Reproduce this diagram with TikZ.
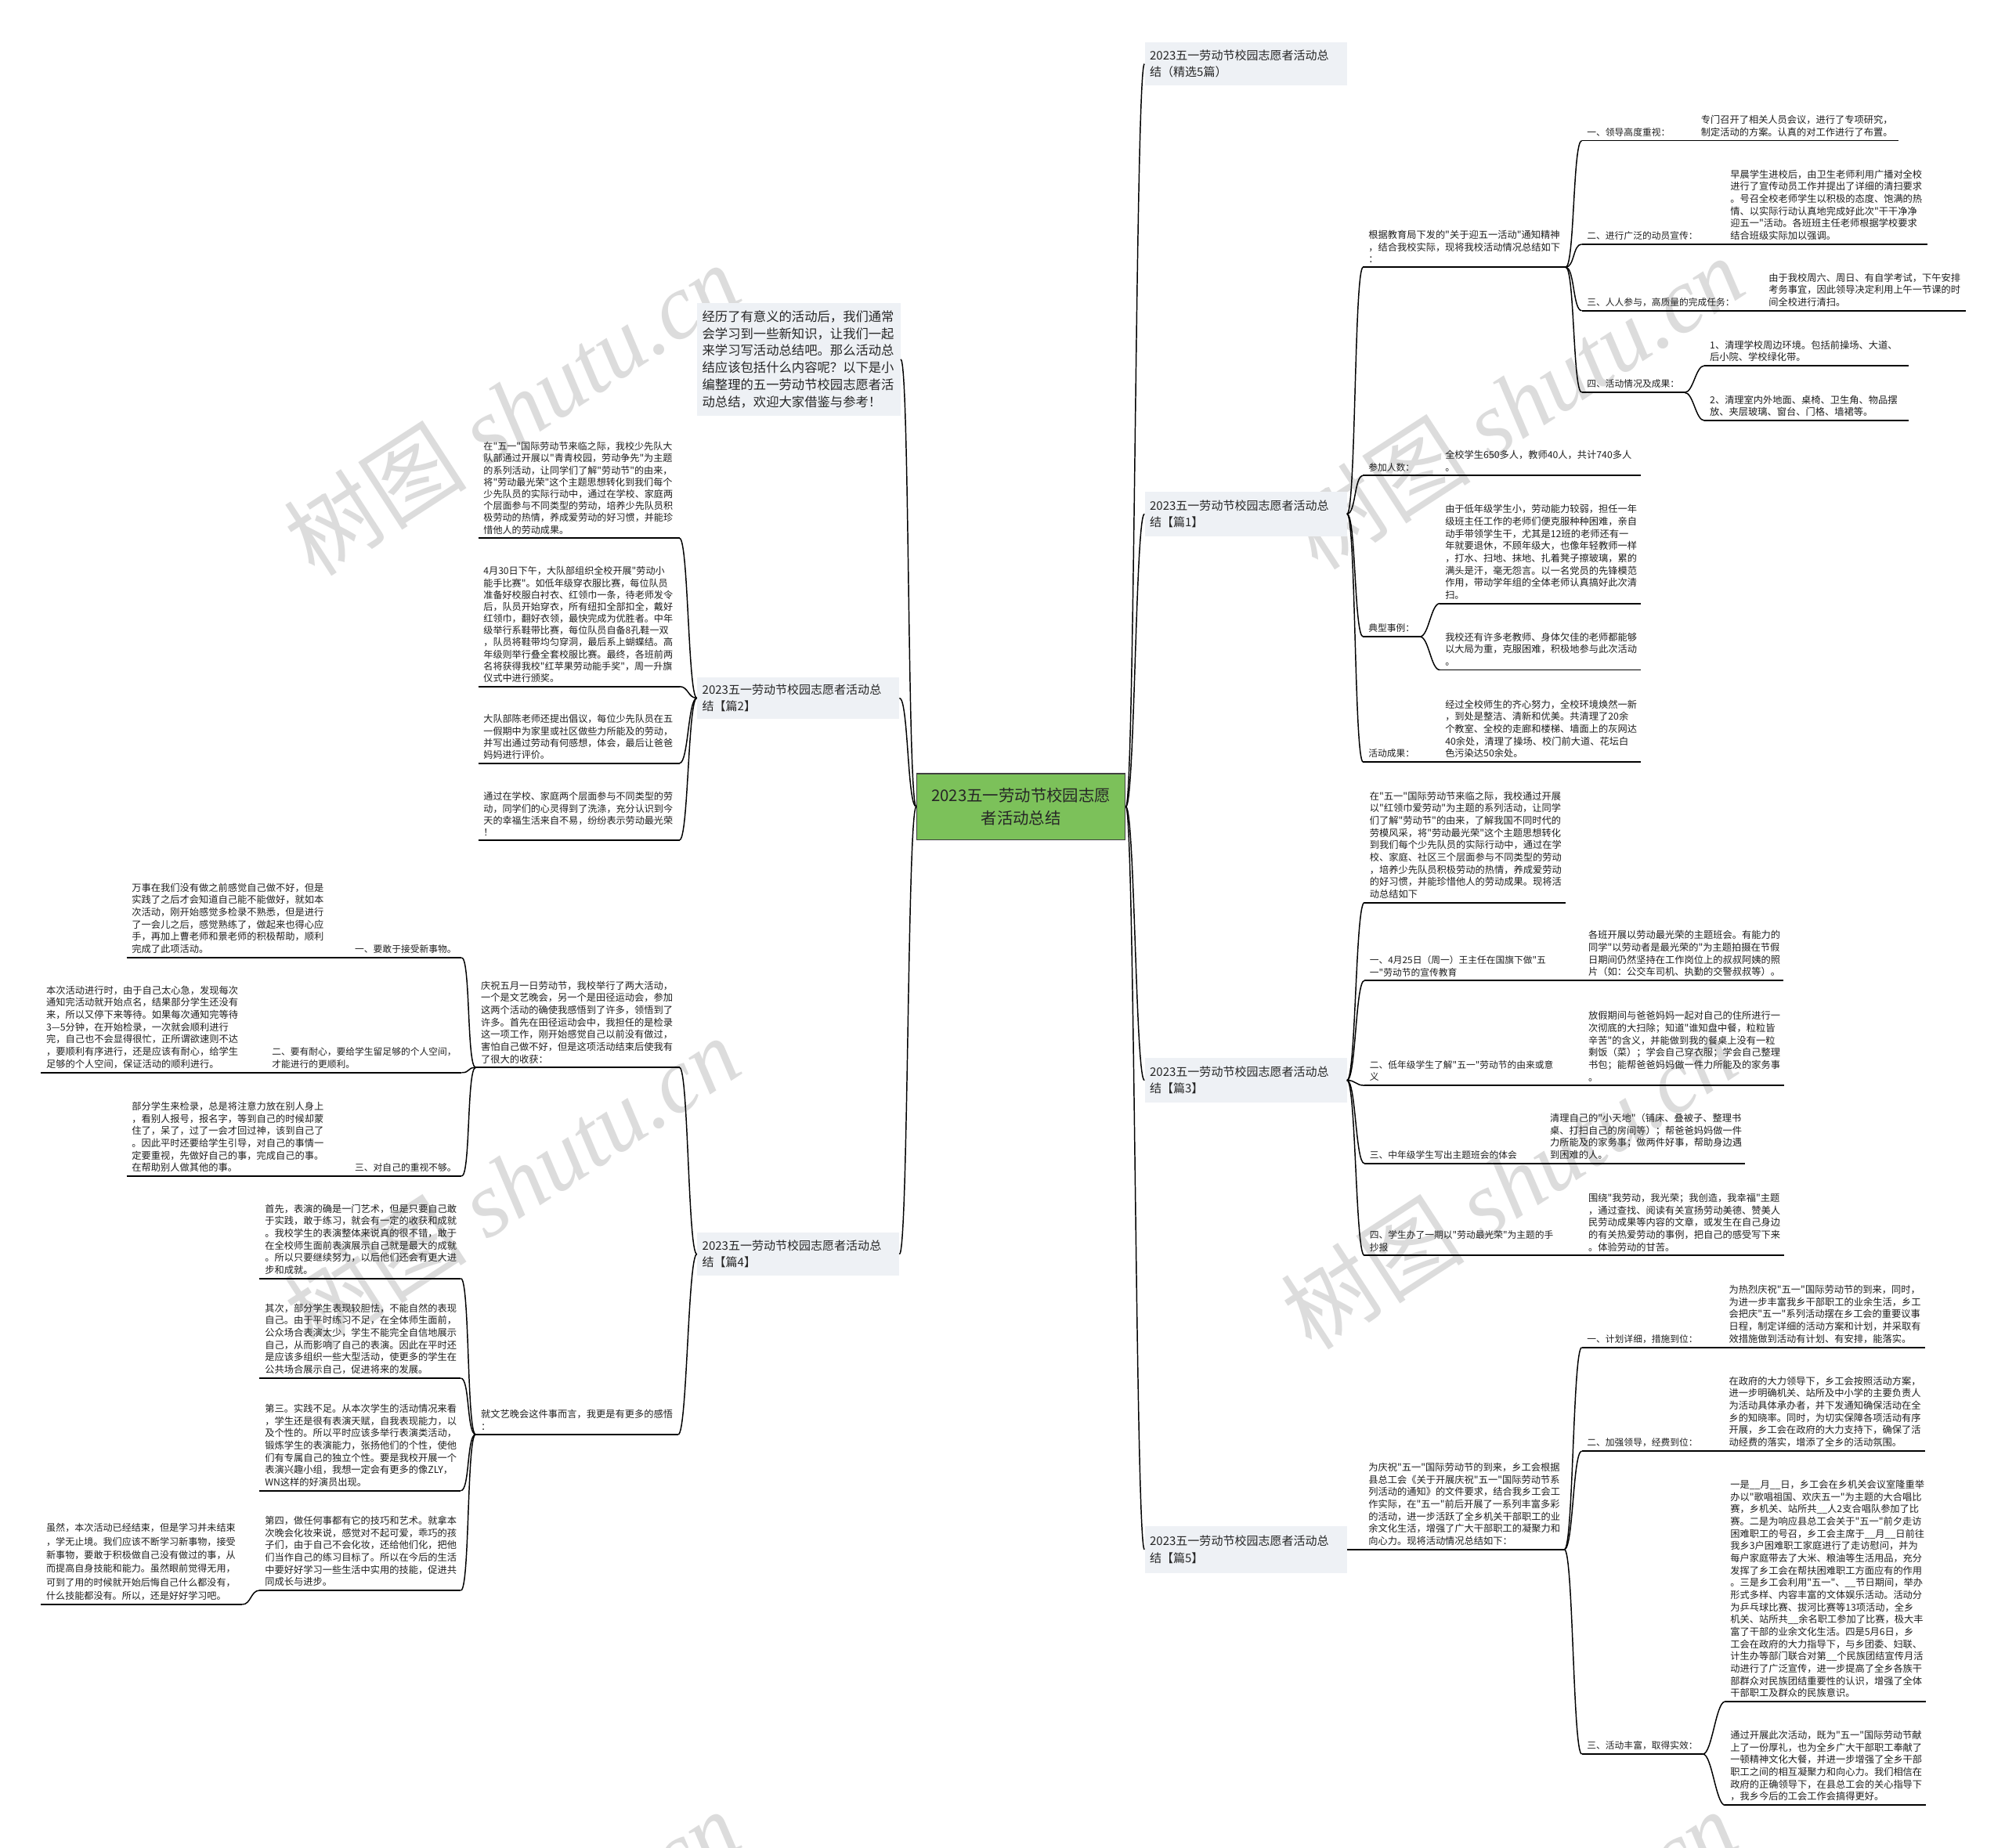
\documentclass[tikz,border=0pt]{standalone}
\usepackage{fontspec}
\setmainfont{Noto Sans CJK SC}[Ligatures=TeXOff]
\newfontfamily\wmserif{Liberation Serif}
\definecolor{ttlfill}{RGB}{238,241,245}
\definecolor{ctrfill}{RGB}{124,193,90}
\definecolor{wmgray}{RGB}{220,220,220}
\tikzset{
  leaf/.style={anchor=south west, inner xsep=4pt, inner ysep=3pt, align=left, font=\fontsize{7.5}{9.6}\selectfont, text=black!88},
  lbl/.style={anchor=south west, inner xsep=4pt, inner ysep=3pt, align=left, font=\fontsize{7.2}{9.6}\selectfont, text=black!88},
  ttl/.style={anchor=west, fill=ttlfill, inner xsep=4pt, inner ysep=2pt, text width=150pt, align=left, font=\fontsize{9.2}{13}\selectfont, text=black!85},
  ctr/.style={draw=black!75, line width=0.9pt, fill=ctrfill, minimum width=163pt, minimum height=52pt, inner sep=2pt, align=center, font=\fontsize{12.5}{18}\selectfont, text=black!85},
  conn/.style={line width=0.9pt, black},
  uline/.style={line width=1.1pt, black},
  wm/.style={text=wmgray, rotate=33, font=\fontsize{72}{72}\selectfont},
}
\newcommand\mkleaf[6][]{\node[leaf,text width=#5pt,#1] (#2) at (#3,#4) {#6};\draw[uline] (#2.south west) -- (#2.south east);}
\newcommand\mklabel[5][]{\node[lbl,#1] (#2) at (#3,#4) {#5};\draw[uline] (#2.south west) -- (#2.south east);}
\newcommand\bcurve[2]{\draw[conn] (#1) .. controls +(7,0) and +(-7,0) .. (#2);}
\newcommand\lcurve[2]{\draw[conn] (#1) .. controls +(-7,0) and +(7,0) .. (#2);}
\begin{document}
\begin{tikzpicture}[x=1pt,y=-1pt]
\fill[white] (0,0) rectangle (1568,1445);
\path[use as bounding box] (0,0) rectangle (1568,1445);
\begin{scope}
\clip (0,0) rectangle (1568,1445);
\node[wm] (w1) at (400,320) {树图 {\wmserif\itshape shutu.cn}};
\node[wm] (w2) at (1185,315) {树图 {\wmserif\itshape shutu.cn}};
\node[wm] (w3) at (400,925) {树图 {\wmserif\itshape shutu.cn}};
\node[wm] (w4) at (1180,925) {树图 {\wmserif\itshape shutu.cn}};
\node[wm] (w5) at (400,1530) {树图 {\wmserif\itshape shutu.cn}};
\node[wm] (w6) at (1180,1530) {树图 {\wmserif\itshape shutu.cn}};
\end{scope}

% center
\node[ctr] (c) at (798.5,631) {2023五一劳动节校园志愿\\者活动总结};

% right titles
\node[ttl, minimum height=34pt] (t0) at (895,50) {2023五一劳动节校园志愿者活动总\\结（精选5篇）};
\node[ttl, minimum height=35pt] (t1) at (895,402) {2023五一劳动节校园志愿者活动总\\结【篇1】};
\node[ttl, minimum height=35pt] (t3) at (895,845) {2023五一劳动节校园志愿者活动总\\结【篇3】};
\node[ttl, minimum height=37pt] (t5) at (895,1212) {2023五一劳动节校园志愿者活动总\\结【篇5】};
% left titles
\node[ttl, text width=151pt, minimum height=88pt, font=\fontsize{10}{13.3}\selectfont] (l0) at (545,281) {经历了有意义的活动后，我们通常\\会学习到一些新知识，让我们一起\\来学习写活动总结吧。那么活动总\\结应该包括什么内容呢？以下是小\\编整理的五一劳动节校园志愿者活\\动总结，欢迎大家借鉴与参考！};
\node[ttl, minimum height=33pt] (l2) at (545,546) {2023五一劳动节校园志愿者活动总\\结【篇2】};
\node[ttl, minimum height=34pt] (l4) at (545,981) {2023五一劳动节校园志愿者活动总\\结【篇4】};

\bcurve{c.east}{t0.west}
\bcurve{c.east}{t1.west}
\bcurve{c.east}{t3.west}
\bcurve{c.east}{t5.west}
\lcurve{c.west}{l0.east}
\lcurve{c.west}{l2.east}
\lcurve{c.west}{l4.east}

% ===== 篇1 =====
\mkleaf{gj}{1066}{209}{150}{根据教育局下发的"关于迎五一活动"通知精神\\，结合我校实际，现将我校活动情况总结如下\\：}
\mklabel{a1}{1237}{110}{一、领导高度重视：}
\mkleaf{a1t}{1326}{110}{150}{专门召开了相关人员会议，进行了专项研究，\\制定活动的方案。认真的对工作进行了布置。}
\draw[uline] (a1.south east) -- (a1t.south west);
\mklabel{a2}{1237}{191}{二、进行广泛的动员宣传：}
\mkleaf{a2t}{1349}{191}{150}{早晨学生进校后，由卫生老师利用广播对全校\\进行了宣传动员工作并提出了详细的清扫要求\\。号召全校老师学生以积极的态度、饱满的热\\情、以实际行动认真地完成好此次"干干净净\\迎五一"活动。各班班主任老师根据学校要求\\结合班级实际加以强调。}
\draw[uline] (a2.south east) -- (a2t.south west);
\mklabel{a3}{1237}{243}{三、人人参与，高质量的完成任务：}
\mkleaf{a3t}{1379}{243}{150}{由于我校周六、周日、有自学考试，下午安排\\考务事宜，因此领导决定利用上午一节课的时\\间全校进行清扫。}
\draw[uline] (a3.south east) -- (a3t.south west);
\mklabel{a4}{1237}{307}{四、活动情况及成果：}
\mkleaf{a41}{1333}{286}{151}{1、清理学校周边环境。包括前操场、大道、\\后小院、学校绿化带。}
\mkleaf{a42}{1333}{329}{151}{2、清理室内外地面、桌椅、卫生角、物品摆\\放、夹层玻璃、窗台、门格、墙裙等。}
\bcurve{a4.south east}{a41.south west}
\bcurve{a4.south east}{a42.south west}
\bcurve{gj.south east}{a1.south west}
\bcurve{gj.south east}{a2.south west}
\bcurve{gj.south east}{a3.south west}
\bcurve{gj.south east}{a4.south west}

\mklabel{pn}{1066}{372}{参加人数：}
\mkleaf{pnt}{1126}{372}{149}{全校学生650多人，教师40人，共计740多人\\。}
\draw[uline] (pn.south east) -- (pnt.south west);
\mklabel{dx}{1066}{498}{典型事例：}
\mkleaf{dx1}{1126}{472}{149}{由于低年级学生小，劳动能力较弱，担任一年\\级班主任工作的老师们便克服种种困难，亲自\\动手带领学生干，尤其是12班的老师还有一\\年就要退休，不顾年级大，也像年轻教师一样\\，打水、扫地、抹地、扎着凳子擦玻璃，累的\\满头是汗，毫无怨言。以一名党员的先锋模范\\作用，带动学年组的全体老师认真搞好此次清\\扫。}
\mkleaf{dx2}{1126}{524}{149}{我校还有许多老教师、身体欠佳的老师都能够\\以大局为重，克服困难，积极地参与此次活动\\。}
\bcurve{dx.south east}{dx1.south west}
\bcurve{dx.south east}{dx2.south west}
\mklabel{hd}{1066}{596}{活动成果：}
\mkleaf{hdt}{1126}{596}{149}{经过全校师生的齐心努力，全校环境焕然一新\\，到处是整洁、清新和优美。共清理了20余\\个教室、全校的走廊和楼梯、墙面上的灰网达\\40余处，清理了操场、校门前大道、花坛白\\色污染达50余处。}
\draw[uline] (hd.south east) -- (hdt.south west);
\bcurve{t1.east}{gj.south west}
\bcurve{t1.east}{pn.south west}
\bcurve{t1.east}{dx.south west}
\bcurve{t1.east}{hd.south west}

% ===== 篇3 =====
\mkleaf{r3i}{1067}{706}{149}{在"五一"国际劳动节来临之际，我校通过开展\\以"红领巾爱劳动"为主题的系列活动，让同学\\们了解"劳动节"的由来，了解我国不同时代的\\劳模风采，将"劳动最光荣"这个主题思想转化\\到我们每个少先队员的实际行动中，通过在学\\校、家庭、社区三个层面参与不同类型的劳动\\，培养少先队员积极劳动的热情，养成爱劳动\\的好习惯，并能珍惜他人的劳动成果。现将活\\动总结如下}
\mklabel{r3a}{1067}{767}{一、4月25日（周一）王主任在国旗下做"五\\一"劳动节的宣传教育}
\mkleaf{r3at}{1238}{767}{148}{各班开展以劳动最光荣的主题班会。有能力的\\同学"以劳动者是最光荣的"为主题拍摄在节假\\日期间仍然坚持在工作岗位上的叔叔阿姨的照\\片（如：公交车司机、执勤的交警叔叔等）。}
\draw[uline] (r3a.south east) -- (r3at.south west);
\mklabel{r3b}{1067}{849}{二、低年级学生了解"五一"劳动节的由来或意\\义}
\mkleaf{r3bt}{1238}{849}{149}{放假期间与爸爸妈妈一起对自己的住所进行一\\次彻底的大扫除；知道"谁知盘中餐，粒粒皆\\辛苦"的含义，并能做到我的餐桌上没有一粒\\剩饭（菜）；学会自己穿衣服；学会自己整理\\书包；能帮爸爸妈妈做一件力所能及的家务事\\。}
\draw[uline] (r3b.south east) -- (r3bt.south west);
\mklabel{r3c}{1067}{910}{三、中年级学生写出主题班会的体会}
\mkleaf{r3ct}{1208}{910}{148}{清理自己的"小天地"（铺床、叠被子、整理书\\桌、打扫自己的房间等）；帮爸爸妈妈做一件\\力所能及的家务事；做两件好事，帮助身边遇\\到困难的人。}
\draw[uline] (r3c.south east) -- (r3ct.south west);
\mklabel{r3d}{1067}{982}{四、学生办了一期以"劳动最光荣"为主题的手\\抄报}
\mkleaf{r3dt}{1238}{982}{149}{围绕"我劳动，我光荣；我创造，我幸福"主题\\，通过查找、阅读有关宣扬劳动美德、赞美人\\民劳动成果等内容的文章，或发生在自己身边\\的有关热爱劳动的事例，把自己的感受写下来\\。体验劳动的甘苦。}
\draw[uline] (r3d.south east) -- (r3dt.south west);
\bcurve{t3.east}{r3i.south west}
\bcurve{t3.east}{r3a.south west}
\bcurve{t3.east}{r3b.south west}
\bcurve{t3.east}{r3c.south west}
\bcurve{t3.east}{r3d.south west}

% ===== 篇5 =====
\mkleaf{r5i}{1066}{1212}{149}{为庆祝"五一"国际劳动节的到来，乡工会根据\\县总工会《关于开展庆祝"五一"国际劳动节系\\列活动的通知》的文件要求，结合我乡工会工\\作实际，在"五一"前后开展了一系列丰富多彩\\的活动，进一步活跃了全乡机关干部职工的业\\余文化生活，增强了广大干部职工的凝聚力和\\向心力。现将活动情况总结如下：}
\draw[conn] (t5.east) -- (r5i.south west);
\mklabel{r5a}{1237}{1054}{一、计划详细，措施到位：}
\mkleaf{r5at}{1348}{1054}{149}{为热烈庆祝"五一"国际劳动节的到来，同时，\\为进一步丰富我乡干部职工的业余生活，乡工\\会把庆"五一"系列活动摆在乡工会的重要议事\\日程，制定详细的活动方案和计划，并采取有\\效措施做到活动有计划、有安排，能落实。}
\draw[uline] (r5a.south east) -- (r5at.south west);
\mklabel{r5b}{1237}{1135}{二、加强领导，经费到位：}
\mkleaf{r5bt}{1348}{1135}{149}{在政府的大力领导下，乡工会按照活动方案，\\进一步明确机关、站所及中小学的主要负责人\\为活动具体承办者，并下发通知确保活动在全\\乡的知晓率。同时，为切实保障各项活动有序\\开展，乡工会在政府的大力支持下，确保了活\\动经费的落实，增添了全乡的活动氛围。}
\draw[uline] (r5b.south east) -- (r5bt.south west);
\mklabel{r5c}{1237}{1372}{三、活动丰富，取得实效：}
\mkleaf{r5c1}{1349}{1331}{149}{一是\_\_月\_\_日，乡工会在乡机关会议室隆重举\\办以"歌唱祖国、欢庆五一"为主题的大合唱比\\赛，乡机关、站所共\_\_人2支合唱队参加了比\\赛。二是为响应县总工会关于"五一"前夕走访\\困难职工的号召，乡工会主席于\_\_月\_\_日前往\\我乡3户困难职工家庭进行了走访慰问，并为\\每户家庭带去了大米、粮油等生活用品，充分\\发挥了乡工会在帮扶困难职工方面应有的作用\\。三是乡工会利用"五一"、\_\_节日期间，举办\\形式多样、内容丰富的文体娱乐活动。活动分\\为乒乓球比赛、拔河比赛等13项活动，全乡\\机关、站所共\_\_余名职工参加了比赛，极大丰\\富了干部的业余文化生活。四是5月6日，乡\\工会在政府的大力指导下，与乡团委、妇联、\\计生办等部门联合对第\_\_个民族团结宣传月活\\动进行了广泛宣传，进一步提高了全乡各族干\\部群众对民族团结重要性的认识，增强了全体\\干部职工及群众的民族意识。}
\mkleaf{r5c2}{1349}{1412}{149}{通过开展此次活动，既为"五一"国际劳动节献\\上了一份厚礼，也为全乡广大干部职工奉献了\\一顿精神文化大餐，并进一步增强了全乡干部\\职工之间的相互凝聚力和向心力。我们相信在\\政府的正确领导下，在县总工会的关心指导下\\，我乡今后的工会工作会搞得更好。}
\bcurve{r5c.south east}{r5c1.south west}
\bcurve{r5c.south east}{r5c2.south west}
\bcurve{r5i.south east}{r5a.south west}
\bcurve{r5i.south east}{r5b.south west}
\bcurve{r5i.south east}{r5c.south west}

% ===== 篇2 =====
\mkleaf[font=\fontsize{7.4}{9.3}\selectfont]{l2a}{374}{421}{149}{在"五一"国际劳动节来临之际，我校少先队大\\队部通过开展以"青青校园，劳动争先"为主题\\的系列活动，让同学们了解"劳动节"的由来，\\将"劳动最光荣"这个主题思想转化到我们每个\\少先队员的实际行动中，通过在学校、家庭两\\个层面参与不同类型的劳动，培养少先队员积\\极劳动的热情，养成爱劳动的好习惯，并能珍\\惜他人的劳动成果。}
\mkleaf[font=\fontsize{7.4}{9.3}\selectfont]{l2b}{374}{537}{149}{4月30日下午，大队部组织全校开展"劳动小\\能手比赛"。如低年级穿衣服比赛，每位队员\\准备好校服白衬衣、红领巾一条，待老师发令\\后，队员开始穿衣，所有纽扣全部扣全，戴好\\红领巾，翻好衣领，最快完成为优胜者。中年\\级举行系鞋带比赛，每位队员自备8孔鞋一双\\，队员将鞋带均匀穿洞，最后系上蝴蝶结。高\\年级则举行叠全套校服比赛。最终，各班前两\\名将获得我校"红苹果劳动能手奖"，周一升旗\\仪式中进行颁奖。}
\mkleaf[font=\fontsize{7.4}{9.3}\selectfont]{l2c}{374}{597}{149}{大队部陈老师还提出倡议，每位少先队员在五\\一假期中为家里或社区做些力所能及的劳动，\\并写出通过劳动有何感想，体会，最后让爸爸\\妈妈进行评价。}
\mkleaf[font=\fontsize{7.4}{9.3}\selectfont]{l2d}{374}{657}{149}{通过在学校、家庭两个层面参与不同类型的劳\\动，同学们的心灵得到了洗涤，充分认识到今\\天的幸福生活来自不易，纷纷表示劳动最光荣\\！}
\lcurve{l2.west}{l2a.south east}
\lcurve{l2.west}{l2b.south east}
\lcurve{l2.west}{l2c.south east}
\lcurve{l2.west}{l2d.south east}

% ===== 篇4 =====
\mkleaf{l4a}{372}{835}{151}{庆祝五月一日劳动节，我校举行了两大活动，\\一个是文艺晚会，另一个是田径运动会，参加\\这两个活动的确使我感悟到了许多，领悟到了\\许多。首先在田径运动会中，我担任的是检录\\这一项工作，刚开始感觉自己以前没有做过，\\害怕自己做不好，但是这项活动结束后使我有\\了很大的收获：}
\mkleaf{l4b}{372}{1122}{150}{就文艺晚会这件事而言，我更是有更多的感悟\\：}
\lcurve{l4.west}{l4a.south east}
\lcurve{l4.west}{l4b.south east}

\mklabel[anchor=south east]{k1}{361}{749}{一、要敢于接受新事物。}
\mkleaf{k1t}{99}{749}{149}{万事在我们没有做之前感觉自己做不好，但是\\实践了之后才会知道自己能不能做好，就如本\\次活动，刚开始感觉多检录不熟悉，但是进行\\了一会儿之后，感觉熟练了，做起来也得心应\\手，再加上曹老师和景老师的积极帮助，顺利\\完成了此项活动。}
\draw[uline] (k1t.south east) -- (k1.south west);
\mklabel[anchor=south east]{k2}{361}{839}{二、要有耐心，要给学生留足够的个人空间，\\才能进行的更顺利。}
\mkleaf{k2t}{32}{839}{149}{本次活动进行时，由于自己太心急，发现每次\\通知完活动就开始点名，结果部分学生还没有\\来，所以又停下来等待。如果每次通知完等待\\3—5分钟，在开始检录，一次就会顺利进行\\完，自己也不会显得很忙，正所谓欲速则不达\\，要顺利有序进行，还是应该有耐心，给学生\\足够的个人空间，保证活动的顺利进行。}
\draw[uline] (k2t.south east) -- (k2.south west);
\mklabel[anchor=south east]{k3}{361}{920}{三、对自己的重视不够。}
\mkleaf{k3t}{99}{920}{149}{部分学生来检录，总是将注意力放在别人身上\\，看别人报号，报名字，等到自己的时候却蒙\\住了，呆了，过了一会才回过神，该到自己了\\。因此平时还要给学生引导，对自己的事情一\\定要重视，先做好自己的事，完成自己的事。\\在帮助别人做其他的事。}
\draw[uline] (k3t.south east) -- (k3.south west);
\lcurve{l4a.south west}{k1.south east}
\lcurve{l4a.south west}{k2.south east}
\lcurve{l4a.south west}{k3.south east}

\mkleaf{m1}{203}{1000}{149}{首先，表演的确是一门艺术，但是只要自己敢\\于实践，敢于练习，就会有一定的收获和成就\\。我校学生的表演整体来说真的很不错，敢于\\在全校师生面前表演展示自己就是最大的成就\\。所以只要继续努力，以后他们还会有更大进\\步和成就。}
\mkleaf{m2}{203}{1078}{149}{其次，部分学生表现较胆怯，不能自然的表现\\自己。由于平时练习不足，在全体师生面前，\\公众场合表演太少，学生不能完全自信地展示\\自己，从而影响了自己的表演。因此在平时还\\是应该多组织一些大型活动，使更多的学生在\\公共场合展示自己，促进将来的发展。}
\mkleaf{m3}{203}{1166}{149}{第三。实践不足。从本次学生的活动情况来看\\，学生还是很有表演天赋，自我表现能力，以\\及个性的。所以平时应该多举行表演类活动，\\锻炼学生的表演能力，张扬他们的个性，使他\\们有专属自己的独立个性。要是我校开展一个\\表演兴趣小组，我想一定会有更多的像ZLY，\\WN这样的好演员出现。}
\mkleaf{m4}{203}{1244}{149}{第四，做任何事都有它的技巧和艺术。就拿本\\次晚会化妆来说，感觉对不起可爱，乖巧的孩\\子们，由于自己不会化妆，还给他们化，把他\\们当作自己的练习目标了。所以在今后的生活\\中要好好学习一些生活中实用的技能，促进共\\同成长与进步。}
\mkleaf[font=\fontsize{7.4}{10.6}\selectfont]{m5}{32}{1255}{149}{虽然，本次活动已经结束，但是学习并未结束\\，学无止境。我们应该不断学习新事物，接受\\新事物，要敢于积极做自己没有做过的事，从\\而提高自身技能和能力。虽然眼前觉得无用，\\可到了用的时候就开始后悔自己什么都没有，\\什么技能都没有。所以，还是好好学习吧。}
\lcurve{l4b.south west}{m1.south east}
\lcurve{l4b.south west}{m2.south east}
\lcurve{l4b.south west}{m3.south east}
\lcurve{l4b.south west}{m4.south east}
\lcurve{m4.south west}{m5.south east}
\end{tikzpicture}
\end{document}
